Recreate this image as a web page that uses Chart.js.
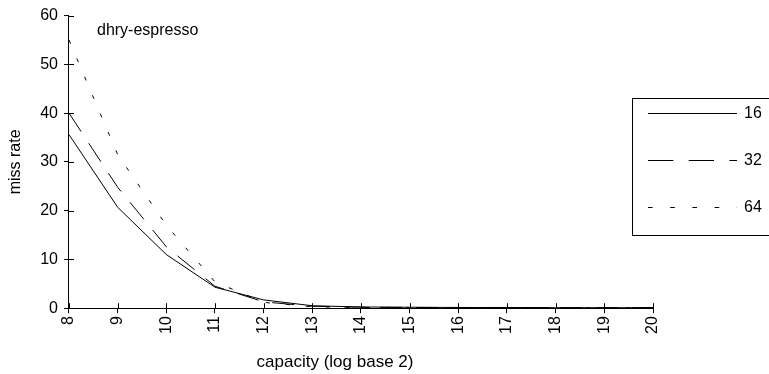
<!DOCTYPE html>
<html>
<head>
<meta charset="utf-8">
<script src="https://cdn.jsdelivr.net/npm/chart.js@4.4.0/dist/chart.umd.min.js"></script>
<style>
  html, body { margin: 0; padding: 0; background: #fff; }
  #wrap { width: 769px; height: 374px; position: relative; }
</style>
</head>
<body>
<div id="wrap"><canvas id="missChart"></canvas></div>
<script>
// capacity (log base 2) on x, miss rate on y
const capacity = [8, 9, 10, 11, 12, 13, 14, 15, 16, 17, 18, 19, 20];
const rate16 = [35.6, 20.7, 11.0, 4.3, 1.7, 0.5, 0.25, 0.2, 0.15, 0.15, 0.1, 0.1, 0.1];
const rate32 = [40.0, 24.8, 12.6, 4.5, 1.3, 0.4, 0.2, 0.15, 0.1, 0.1, 0.1, 0.1, 0.1];
const rate64 = [55.0, 31.5, 17.0, 5.4, 1.2, 0.3, 0.15, 0.1, 0.1, 0.1, 0.1, 0.1, 0.1];
const seriesNames = ['16', '32', '64'];
const chartTitle = 'dhry-espresso';
const xTitle = 'capacity (log base 2)';
const yTitle = 'miss rate';

const FONT = 'Liberation Sans, Arial, sans-serif';
const FS = 16;

function toPoints(vals) {
    return capacity.map((c, i) => ({ x: c, y: vals[i] }));
}

// Draws the boxed legend on the right, the series name, x title
// and the inner half of the tick marks (they cross the axes)
const decorPlugin = {
    id: 'decor',
    afterDraw(chart) {
        const ctx = chart.ctx;
        const area = chart.chartArea;
        const xs = chart.scales.x;
        const ys = chart.scales.y;
        ctx.save();

        ctx.strokeStyle = '#000';
        ctx.lineWidth = 1;
        ctx.beginPath();
        xs.ticks.forEach(t => {
            const px = Math.round(xs.getPixelForValue(t.value)) + 0.5;
            ctx.moveTo(px, area.bottom);
            ctx.lineTo(px, area.bottom - 5);
        });
        ys.ticks.forEach(t => {
            const py = Math.round(ys.getPixelForValue(t.value)) + 0.5;
            ctx.moveTo(area.left, py);
            ctx.lineTo(area.left + 5, py);
        });
        ctx.stroke();

        // annotation in the plot
        ctx.fillStyle = '#000';
        ctx.font = FS + 'px ' + FONT;
        ctx.textAlign = 'left';
        ctx.textBaseline = 'middle';
        ctx.fillText(chartTitle, area.left + 28, 31);

        // x axis title
        ctx.textAlign = 'center';
        ctx.font = '17px ' + FONT;
        ctx.fillText(xTitle, 335, 362);
        ctx.font = FS + 'px ' + FONT;

        // legend box
        ctx.strokeRect(632.5, 98.5, 150, 137);

        chart.data.datasets.forEach((ds, i) => {
            const y = 113 + i * 47 + 0.5;
            ctx.beginPath();
            ctx.setLineDash(ds.borderDash ? [ds.borderDash[0] * 1.15, ds.borderDash[1] * 1.1] : []);
            ctx.moveTo(648, y);
            ctx.lineTo(737, y);
            ctx.stroke();
            ctx.setLineDash([]);
            ctx.textAlign = 'left';
            ctx.fillText(ds.label, 744, y);
        });
        ctx.restore();
    }
};

new Chart(document.getElementById('missChart'), {
    type: 'line',
    data: {
        datasets: [
            {
                label: seriesNames[0],
                data: toPoints(rate16),
                borderColor: '#000',
                borderWidth: 1,
                pointRadius: 0,
                tension: 0
            },
            {
                label: seriesNames[1],
                data: toPoints(rate32),
                borderColor: '#000',
                borderWidth: 1,
                borderDash: [22, 14],
                pointRadius: 0,
                tension: 0
            },
            {
                label: seriesNames[2],
                data: toPoints(rate64),
                borderColor: '#000',
                borderWidth: 1,
                borderDash: [4, 16],
                pointRadius: 0,
                tension: 0
            }
        ]
    },
    options: {
        responsive: true,
        maintainAspectRatio: false,
        animation: false,
        layout: {
            padding: { top: 2, right: 116, bottom: 37, left: 6 }
        },
        plugins: {
            legend: { display: false },
            tooltip: { enabled: false }
        },
        scales: {
            x: {
                type: 'linear',
                min: 8,
                max: 20,
                grid: {
                    drawOnChartArea: false,
                    color: '#000',
                    tickLength: 5
                },
                border: { color: '#000', width: 1 },
                ticks: {
                    stepSize: 1,
                    color: '#000',
                    font: { size: FS, family: FONT },
                    maxRotation: 90,
                    minRotation: 90,
                    padding: 3
                }
            },
            y: {
                min: 0,
                max: 60,
                grid: {
                    drawOnChartArea: false,
                    color: '#000',
                    tickLength: 5
                },
                border: { color: '#000', width: 1 },
                ticks: {
                    stepSize: 10,
                    color: '#000',
                    font: { size: FS, family: FONT },
                    padding: 6
                },
                title: {
                    display: true,
                    text: yTitle,
                    color: '#000',
                    font: { size: FS, family: FONT },
                    padding: { top: 0, bottom: 9 }
                }
            }
        }
    },
    plugins: [decorPlugin]
});
</script>
</body>
</html>
